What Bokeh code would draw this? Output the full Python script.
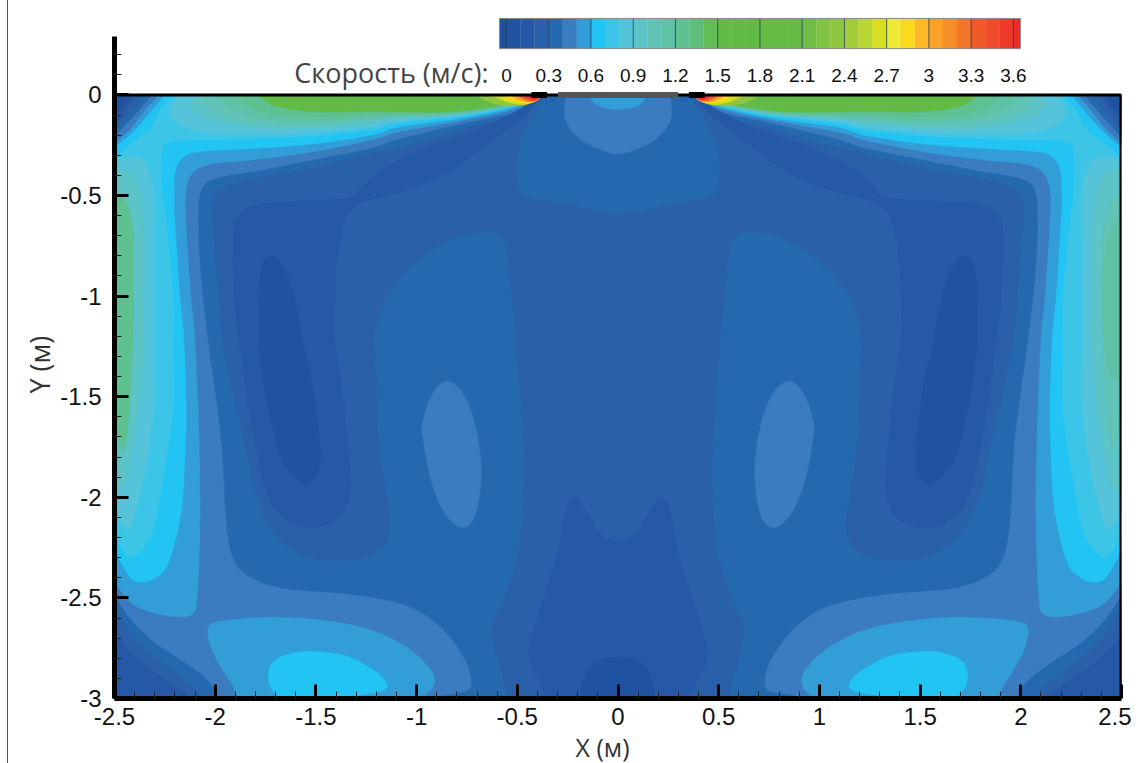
from bokeh.plotting import figure
from bokeh.models import Range1d, FixedTicker, NumeralTickFormatter, Label, Title
from bokeh.core.properties import value
from bokeh.embed import file_html
from bokeh.resources import INLINE

# ---- colour scale of the speed bands (m/s)
band_levels = [-0.05, 0.0, 0.1, 0.2, 0.3, 0.4, 0.5, 0.6, 0.7, 0.8, 0.9, 1.0, 1.1, 1.2, 1.3, 1.4, 1.5, 1.6, 1.7, 1.8,
               1.9, 2.0, 2.1, 2.2, 2.3, 2.4, 2.5, 2.6, 2.7, 2.8, 2.9, 3.0, 3.1, 3.2, 3.3, 3.4, 3.5, 3.6, 3.65]
band_colors = ["#1e50a0", "#1f52a0", "#2558a6", "#2a5fa9", "#2469b0", "#3a7cbf", "#339dd7", "#22c4f4", "#3dc5e8",
               "#55c4db", "#5cc4c6", "#60c3b6", "#5fc2a4", "#5fc090", "#5fbe7c", "#63bc55", "#62bb46", "#62bb46",
               "#62bb46", "#65bb45", "#65bb45", "#65bb45", "#6fbd45", "#80c241", "#8fc63f", "#a3cb3a", "#b9d433",
               "#d5df20", "#eee935", "#fcd91c", "#fdb827", "#faa027", "#f68d28", "#f2752b", "#f05a29", "#ee4c2b",
               "#ee3a2b", "#ed2a2a"]
cbar_ticks = [0, 0.3, 0.6, 0.9, 1.2, 1.5, 1.8, 2.1, 2.4, 2.7, 3.0, 3.3, 3.6]
cbar_labels = ["0", "0.3", "0.6", "0.9", "1.2", "1.5", "1.8", "2.1", "2.4", "2.7", "3", "3.3", "3.6"]

x_major = [-2.5, -2, -1.5, -1, -0.5, 0, 0.5, 1, 1.5, 2, 2.5]
y_major = [-3, -2.5, -2, -1.5, -1, -0.5, 0]

plate_x = (-0.298, 0.298)
vent_x = (-0.43, -0.352)

TIP = (-0.377, 0.0)

# ---- contour lines traced on the left half, x (m), y (m)
jet_085 = [(-2.19, 0), (-2.222, -.087), (-2.183, -.142), (-2.054, -.187), (-1.771, -.197), (-1.523, -.187), (-1.225, -.162), (-1.091, -.132), (-.764, -.102), (-.516, -.053), TIP]
jet_095 = [(-2.103, 0), (-2.118, -.063), (-2.019, -.127), (-1.771, -.167), (-1.438, -.162), (-1.225, -.142), (-1.091, -.122), (-.764, -.097), (-.516, -.05), TIP]
jet_105 = [(-2.059, 0), (-2.044, -.053), (-1.984, -.092), (-1.806, -.142), (-1.523, -.152), (-1.225, -.127), (-1.091, -.112), (-.764, -.092), (-.516, -.048), TIP]
jet_115 = [(-2.004, 0), (-1.92, -.068), (-1.771, -.117), (-1.523, -.137), (-1.225, -.112), (-1.091, -.105), (-.764, -.087), (-.516, -.045), TIP]
jet_125 = [(-1.905, 0), (-1.82, -.063), (-1.657, -.102), (-1.389, -.112), (-1.225, -.097), (-1.091, -.095), (-.764, -.083), (-.516, -.043), TIP]
jet_160 = [(-1.786, 0), (-1.706, -.053), (-1.523, -.083), (-1.225, -.083), (-.928, -.087), (-.764, -.078), (-.595, -.053), (-.481, -.028), TIP]
tip_235 = [(-.70, 0), (-.63, -.04), (-.531, -.055), (-.432, -.04), TIP]
tip_265 = [(-.63, 0), (-.556, -.033), (-.481, -.048), (-.417, -.033), TIP]
tip_285 = [(-.575, 0), (-.516, -.03), (-.456, -.042), (-.407, -.03), TIP]
tip_305 = [(-.535, 0), (-.491, -.025), (-.441, -.036), (-.397, -.024), TIP]
tip_335 = [(-.50, 0), (-.461, -.024), (-.422, -.03), (-.392, -.018), TIP]
tip_360 = [(-.47, 0), (-.432, -.02), (-.402, -.02), TIP]

dome_085 = [(-2.5, -.315), (-2.40, -.311), (-2.351, -.336), (-2.307, -.475), (-2.307, -.808), (-2.307, -1.221), (-2.307, -1.554), (-2.351, -1.882), (-2.40, -2.08), (-2.43, -2.16), (-2.465, -2.13), (-2.5, -2.08)]
dome_095 = [(-2.5, -.37), (-2.416, -.40), (-2.366, -.525), (-2.356, -.808), (-2.356, -1.27), (-2.38, -1.554), (-2.425, -1.832), (-2.455, -1.951), (-2.5, -1.98)]
dome_inner = [(-2.5, -.48), (-2.44, -.54), (-2.406, -.709), (-2.406, -.972), (-2.41, -1.27), (-2.425, -1.554), (-2.45, -1.757), (-2.475, -1.72), (-2.5, -1.60)]
dome_right = [(2.5, -.59), (2.43, -.72), (2.405, -.95), (2.41, -1.2), (2.44, -1.38), (2.47, -1.42), (2.5, -1.40)]

contour_07 = [TIP, (-.516, -.058), (-.764, -.107), (-1.091, -.147), (-1.225, -.177), (-1.523, -.207), (-1.855, -.222), (-2.103, -.227), (-2.227, -.237), (-2.262, -.286), (-2.262, -.475), (-2.242, -.639), (-2.207, -1.007), (-2.207, -1.27), (-2.207, -1.554), (-2.252, -1.882), (-2.302, -2.15), (-2.356, -2.254), (-2.406, -2.299), (-2.45, -2.279), (-2.5, -2.19)]
contour_06 = [TIP, (-.516, -.063), (-.764, -.117), (-1.091, -.162), (-1.225, -.202), (-1.523, -.247), (-1.855, -.271), (-2.044, -.281), (-2.143, -.301), (-2.192, -.366), (-2.202, -.50), (-2.197, -.639), (-2.173, -1.007), (-2.153, -1.221), (-2.143, -1.554), (-2.148, -1.802), (-2.168, -2.08), (-2.232, -2.33), (-2.302, -2.404), (-2.366, -2.423), (-2.425, -2.399), (-2.5, -2.27)]
contour_05 = [TIP, (-.516, -.073), (-.764, -.127), (-1.091, -.187), (-1.225, -.227), (-1.523, -.286), (-1.82, -.326), (-2.019, -.346), (-2.108, -.386), (-2.143, -.475), (-2.143, -.639), (-2.118, -1.007), (-2.098, -1.221), (-2.078, -1.718), (-2.073, -2.051), (-2.078, -2.314), (-2.088, -2.498), (-2.103, -2.573), (-2.168, -2.597), (-2.302, -2.577), (-2.416, -2.528), (-2.5, -2.425)]
contour_04 = [TIP, (-.516, -.087), (-.764, -.142), (-1.091, -.222), (-1.225, -.266), (-1.523, -.326), (-1.771, -.376), (-1.994, -.416), (-2.068, -.475), (-2.083, -.639), (-2.068, -.922), (-2.034, -1.221), (-1.969, -1.718), (-1.944, -2.13), (-1.905, -2.314), (-1.82, -2.399), (-1.657, -2.453), (-1.359, -2.478), (-1.141, -2.513), (-.992, -2.563), (-.863, -2.662), (-.764, -2.796), (-.729, -2.895), (-.744, -2.96), (-.863, -2.985), (-.928, -3)]
contour_03 = [TIP, (-.516, -.102), (-.764, -.167), (-1.091, -.266), (-1.225, -.291), (-1.523, -.366), (-1.771, -.411), (-1.954, -.46), (-2.004, -.525), (-2.009, -.639), (-1.984, -.972), (-1.954, -1.27), (-1.855, -1.718), (-1.786, -2.016), (-1.687, -2.2), (-1.523, -2.299), (-1.359, -2.314), (-1.21, -2.279), (-1.141, -2.2), (-1.136, -2.08), (-1.166, -1.901), (-1.19, -1.718), (-1.2, -1.42), (-1.21, -1.221), (-1.176, -1.071), (-1.091, -.922), (-.928, -.773), (-.78, -.70), (-.665, -.684), (-.595, -.69), (-.56, -.74), (-.545, -.83), (-.531, -.972), (-.506, -1.221), (-.471, -1.718), (-.466, -1.917), (-.491, -2.264), (-.565, -2.513), (-.62, -2.612), (-.615, -2.727), (-.556, -2.96), (-.57, -3)]
strip_02 = [TIP, (-.481, -.068), (-.645, -.152), (-.962, -.266), (-1.176, -.376), (-1.275, -.46), (-1.324, -.51), (-1.523, -.525), (-1.806, -.55), (-1.88, -.60), (-1.91, -.674), (-1.905, -.972), (-1.88, -1.221), (-1.82, -1.633), (-1.736, -2.0), (-1.622, -2.125), (-1.508, -2.15), (-1.389, -2.105), (-1.334, -2.0), (-1.329, -1.882), (-1.359, -1.554), (-1.404, -1.221), (-1.404, -.972), (-1.389, -.758), (-1.349, -.609), (-1.29, -.54), (-1.15, -.50), (-1.012, -.46), (-.828, -.376), (-.645, -.242), (-.481, -.117), TIP]
core_01 = [(-1.706, -.803), (-1.761, -.838), (-1.781, -.972), (-1.781, -1.27), (-1.736, -1.554), (-1.672, -1.802), (-1.587, -1.917), (-1.538, -1.931), (-1.488, -1.867), (-1.483, -1.718), (-1.523, -1.419), (-1.558, -1.27), (-1.582, -1.136), (-1.637, -.907)]
oval_05 = [(-.873, -1.43), (-.9375, -1.519), (-.972, -1.643), (-.967, -1.718), (-.928, -1.917), (-.863, -2.075), (-.779, -2.15), (-.714, -2.1), (-.68, -1.917), (-.694, -1.718), (-.739, -1.544), (-.804, -1.444)]

top_04 = [(-.36, 0), (-.367, -.028), (-.432, -.127), (-.481, -.227), (-.501, -.341), (-.491, -.465), (-.446, -.51), (-.268, -.54), (0, -.589)]
top_05 = [(-.258, 0), (-.263, -.117), (-.198, -.212), (-.099, -.266), (0, -.294)]
top_06 = [(-.149, 0), (-.099, -.053), (0, -.073)]
spot_03 = [(-.345, 0), (-.322, -.035), (-.30, 0), (-.322, .01)]

lobe_06 = [(-2.034, -2.647), (-2.004, -2.622), (-1.855, -2.602), (-1.637, -2.597), (-1.389, -2.622), (-1.19, -2.672), (-1.027, -2.761), (-.928, -2.861), (-.913, -2.925), (-.942, -2.97), (-1.027, -2.99), (-1.572, -3), (-1.855, -3), (-1.92, -2.925), (-2.004, -2.786), (-2.034, -2.697)]
lobe_07 = [(-1.736, -2.876), (-1.706, -2.811), (-1.622, -2.776), (-1.523, -2.766), (-1.359, -2.786), (-1.225, -2.851), (-1.151, -2.92), (-1.166, -2.96), (-1.29, -2.985), (-1.438, -2.995), (-1.657, -2.995), (-1.721, -2.95)]
mid_02 = [(-.347, -3), (-.432, -2.826), (-.432, -2.712), (-.308, -2.314), (-.258, -2.066), (-.213, -2.0), (-.159, -2.066), (-.084, -2.19), (0, -2.215)]
mid_01 = [(-.174, -3), (-.174, -2.925), (-.119, -2.826), (0, -2.796)]

corner_top = {
    0.65: [(-2.5, -.311), (-2.40, -.227), (-2.331, -.177), (-2.302, -.127), (-2.267, -.063), (-2.207, 0)],
    0.55: [(-2.5, -.26), (-2.43, -.202), (-2.366, -.137), (-2.316, -.078), (-2.252, 0)],
    0.45: [(-2.5, -.24), (-2.416, -.162), (-2.351, -.078), (-2.282, 0)],
    0.35: [(-2.5, -.21), (-2.416, -.117), (-2.351, -.043), (-2.316, 0)],
    0.25: [(-2.5, -.18), (-2.43, -.092), (-2.38, -.038), (-2.351, 0)],
    0.15: [(-2.5, -.15), (-2.45, -.078), (-2.40, 0)],
    0.05: [(-2.5, -.11), (-2.45, -.05), (-2.43, 0)],
}
corner_bottom = {
    0.35: [(-2.5, -2.49), (-2.416, -2.612), (-2.302, -2.722), (-2.153, -2.821), (-2.054, -2.895), (-2.004, -2.95), (-1.984, -3)],
    0.25: [(-2.5, -2.56), (-2.38, -2.722), (-2.252, -2.836), (-2.118, -2.935), (-2.068, -3)],
    0.15: [(-2.5, -2.68), (-2.40, -2.796), (-2.282, -2.885), (-2.153, -2.975), (-2.118, -3)],
}


def smooth(pts, closed=False, n=10):
    """Catmull-Rom through the traced points, clipped to the domain."""
    m = len(pts)
    out = []
    last = m if closed else m - 1
    for i in range(last):
        if closed:
            p0, p1, p2, p3 = pts[(i - 1) % m], pts[i], pts[(i + 1) % m], pts[(i + 2) % m]
        else:
            p0, p1, p2, p3 = pts[max(i - 1, 0)], pts[i], pts[i + 1], pts[min(i + 2, m - 1)]
        for k in range(n):
            t = k / n
            q = []
            for a, b, c, d in zip(p0, p1, p2, p3):
                q.append(0.5 * (2 * b + (c - a) * t + (2 * a - 5 * b + 4 * c - d) * t * t + (3 * b - a - 3 * c + d) * t ** 3))
            out.append((min(max(q[0], -2.5), 2.5), min(max(q[1], -3.0), 0.0)))
    if not closed:
        out.append(pts[-1])
    return out


def mirror(pts):
    return [(-x, y) for x, y in pts]


def band_of(level):
    for i in range(len(band_colors)):
        if band_levels[i] <= level < band_levels[i + 1]:
            return band_colors[i]
    return band_colors[-1]


layers = []


def add(level, pts):
    layers.append((level, pts))


def both(level, pts):
    add(level, pts)
    add(level, mirror(pts))


def across(level, chain, closing=()):
    if chain[-1][0] == 0:
        add(level, smooth(chain + mirror(chain)[::-1][1:]))
    else:
        s = smooth(chain)
        add(level, s + list(closing) + mirror(s)[::-1])


add(0.75, [(-2.5, 0), (2.5, 0), (2.5, -3), (-2.5, -3)])
# wall domes
for lv, d in ((0.85, dome_085), (0.95, dome_095)):
    both(lv, smooth(d) + [(-2.5, d[0][1])])
add(1.25, smooth(dome_inner))
add(1.05, mirror(smooth(dome_inner)))
add(1.15, smooth(dome_right))
# ceiling jets
for lv, j in ((0.85, jet_085), (0.95, jet_095), (1.05, jet_105), (1.15, jet_115), (1.25, jet_125), (1.6, jet_160)):
    both(lv, smooth(j))
# nested interior
across(0.65, contour_07, [(-2.5, -3), (2.5, -3)])
across(0.55, contour_06, [(-2.5, -3), (2.5, -3)])
across(0.45, contour_05, [(-2.5, -3), (2.5, -3)])
across(0.35, contour_04)
across(0.25, contour_03)
both(0.15, smooth(strip_02))
both(0.05, smooth(core_01, closed=True))
both(0.45, smooth(oval_05, closed=True))
across(0.35, top_04)
across(0.45, top_05)
across(0.55, top_06)
both(0.25, smooth(spot_03, closed=True))
both(0.55, smooth(lobe_06, closed=True))
both(0.65, smooth(lobe_07, closed=True))
across(0.15, mid_02)
across(0.05, mid_01)
for lv, c in corner_top.items():
    both(lv, smooth(c) + [(-2.5, 0)])
for lv, c in corner_bottom.items():
    both(lv, smooth(c) + [(-2.5, -3)])
for lv, t in ((2.35, tip_235), (2.65, tip_265), (2.85, tip_285), (3.05, tip_305), (3.35, tip_335), (3.6, tip_360)):
    both(lv, smooth(t))

LEFT, TOP = 114, 8
FRAME_W, FRAME_H = 1007, 690
W, H = LEFT + FRAME_W + 10, 763
p = figure(width=W, height=H, x_range=Range1d(-2.5, 2.5), y_range=Range1d(-3, 0.4294),
           output_backend="svg", toolbar_location=None, min_border_left=LEFT, min_border_right=10,
           min_border_top=TOP, min_border_bottom=H - FRAME_H - TOP, outline_line_color=None,
           background_fill_color="white", border_fill_color=None)
p.styles = {"background-image": "linear-gradient(#555555, #555555)", "background-size": "1px 100%",
            "background-position": "7px 0", "background-repeat": "no-repeat"}
p.grid.visible = False

p.patches(xs=[[q[0] for q in l[1]] for l in layers], ys=[[q[1] for q in l[1]] for l in layers],
          fill_color=[band_of(l[0]) for l in layers], line_color=[band_of(l[0]) for l in layers], line_width=0.4)

# walls
p.segment(x0=[-2.5], y0=[0], x1=[2.5], y1=[0], line_color="black", line_width=3)
p.segment(x0=[2.5], y0=[0], x1=[2.5], y1=[-3], line_color="black", line_width=4)
p.quad(left=[plate_x[0]], right=[plate_x[1]], top=[0.015], bottom=[-0.015], fill_color="#555555", line_color=None)
p.quad(left=[vent_x[0], -vent_x[1]], right=[vent_x[1], -vent_x[0]], top=[0.015, 0.015], bottom=[-0.015, -0.015],
       fill_color="black", line_color=None)

# colour bar, on its own horizontal scale of speed
p.extra_x_ranges["cbar"] = Range1d((114 - 506) / 140.8, (1121 - 506) / 140.8)
p.quad(left=band_levels[:-1], right=band_levels[1:], top=[0.38] * len(band_colors), bottom=[0.23] * len(band_colors),
       fill_color=band_colors, line_color=band_colors, line_width=0.3, x_range_name="cbar")
p.segment(x0=cbar_ticks, x1=cbar_ticks, y0=[0.23] * 13, y1=[0.38] * 13, line_color="#123a5a", line_alpha=0.75,
          line_width=1, x_range_name="cbar")
p.quad(left=[band_levels[0]], right=[band_levels[-1]], top=[0.38], bottom=[0.23], fill_color=None,
       line_color="#8a8a8a", line_width=1, x_range_name="cbar")
p.text(x=cbar_ticks, y=[0.098] * 13, text=cbar_labels, x_range_name="cbar", text_align="center",
       text_baseline="middle", text_font=value("Liberation Sans"), text_font_size="19px", text_color="#111111")

AX_FONT = "Liberation Sans"
for ax, major, lo, hi in ((p.xaxis[0], x_major, -2.5, 2.5), (p.yaxis[0], y_major, -3, 0.2)):
    minors = [round(lo + i * 0.1, 1) for i in range(int(round((hi - lo) * 10)) + 1)]
    ax.ticker = FixedTicker(ticks=major, minor_ticks=[m for m in minors if m not in major])
    ax.formatter = NumeralTickFormatter(format="0.[0]")
    ax.axis_line_color = "black"
    ax.axis_line_width = 5
    ax.major_tick_in = 14
    ax.major_tick_out = 0
    ax.major_tick_line_width = 3
    ax.major_tick_line_color = "black"
    ax.minor_tick_in = 7
    ax.minor_tick_out = 0
    ax.minor_tick_line_width = 1
    ax.minor_tick_line_color = "#222222"
    ax.major_label_text_font = AX_FONT
    ax.major_label_text_font_size = "24px"
    ax.major_label_text_color = "#111111"
p.yaxis[0].bounds = (-3, 0.29)
p.yaxis[0].major_label_standoff = 13
p.xaxis[0].major_label_standoff = 9

TITLE_FONT = "Open Sans"
p.add_layout(Title(text="X (м)", align="left", offset=575 - LEFT, standoff=0, text_font=TITLE_FONT,
                   text_font_size="25px", text_font_style="normal", text_color="#333333"), "below")
p.add_layout(Title(text="Y (м)", align="left", offset=698 - 393, standoff=0, text_font=TITLE_FONT,
                   text_font_size="27px", text_font_style="normal", text_color="#333333"), "left")
p.add_layout(Label(x=488 - LEFT, y=698 - 72, x_units="screen", y_units="screen", text="Скорость (м/с):", text_align="right",
                   text_baseline="middle", text_font=TITLE_FONT, text_font_size="27px", text_color="#444444"))

open("out.html", "w").write(file_html(p, INLINE))
